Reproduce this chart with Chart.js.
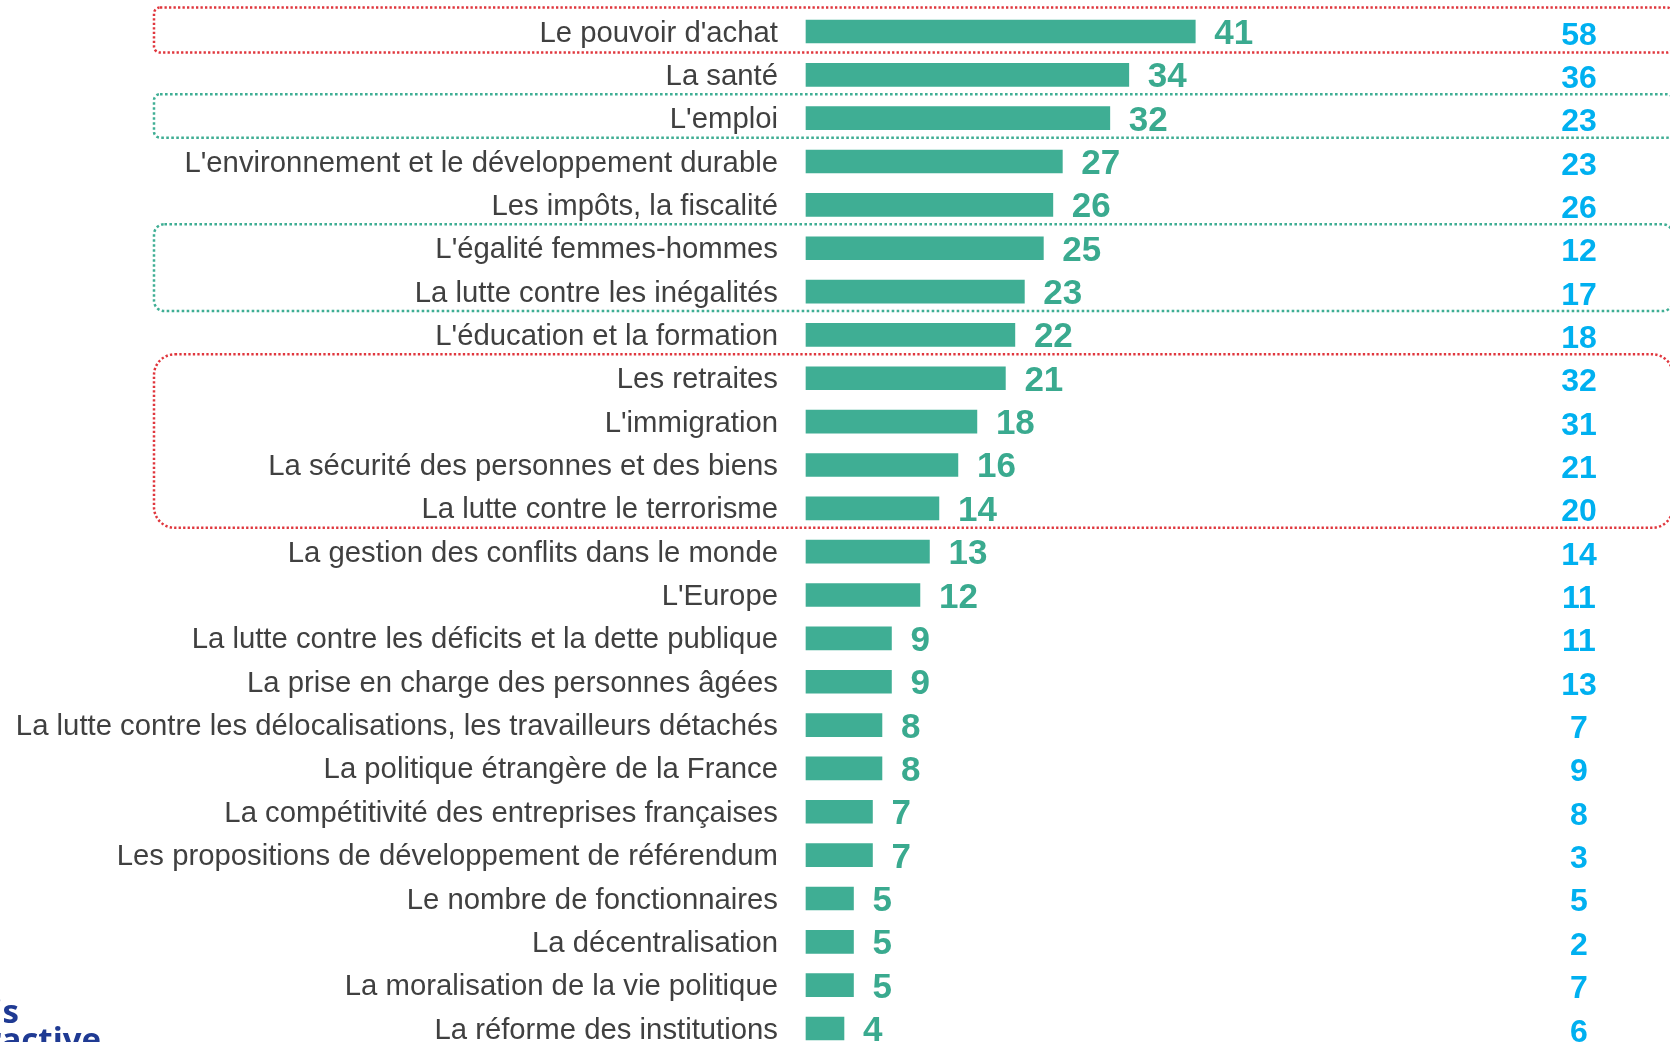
<!DOCTYPE html>
<html><head><meta charset="utf-8">
<script src="https://cdn.jsdelivr.net/npm/chart.js@4.4.0/dist/chart.umd.min.js"></script>
<style>html,body{margin:0;padding:0;background:#fff;overflow:hidden}#wrap{width:1670px;height:1042px;position:relative}</style>
</head><body><div id="wrap"><canvas id="c" width="1670" height="1042"></canvas></div>
<script>
const categories = [
  "Le pouvoir d'achat",
  "La santé",
  "L'emploi",
  "L'environnement et le développement durable",
  "Les impôts, la fiscalité",
  "L'égalité femmes-hommes",
  "La lutte contre les inégalités",
  "L'éducation et la formation",
  "Les retraites",
  "L'immigration",
  "La sécurité des personnes et des biens",
  "La lutte contre le terrorisme",
  "La gestion des conflits dans le monde",
  "L'Europe",
  "La lutte contre les déficits et la dette publique",
  "La prise en charge des personnes âgées",
  "La lutte contre les délocalisations, les travailleurs détachés",
  "La politique étrangère de la France",
  "La compétitivité des entreprises françaises",
  "Les propositions de développement de référendum",
  "Le nombre de fonctionnaires",
  "La décentralisation",
  "La moralisation de la vie politique",
  "La réforme des institutions"
];
const valuesMain = [41,34,32,27,26,25,23,22,21,18,16,14,13,12,9,9,8,8,7,7,5,5,5,4];
const valuesCompare = [58,36,23,23,26,12,17,18,32,31,21,20,14,11,11,13,7,9,8,3,5,2,7,6];
const redGroups = [[0,0],[8,11]];
const greenGroups = [[2,2],[5,6]];
const logoLines = ["Harris", "Interactive"];

const GREEN = '#3FAE94';
const GREEN_TXT = '#3AAA8F';
const BLUE = '#00B0F0';
const RED_DOT = '#E0363D';

function roundRectPath(ctx, x, y, w, h, r) {
  ctx.beginPath();
  ctx.moveTo(x + r, y);
  ctx.lineTo(x + w - r, y);
  ctx.arcTo(x + w, y, x + w, y + r, r);
  ctx.lineTo(x + w, y + h - r);
  ctx.arcTo(x + w, y + h, x + w - r, y + h, r);
  ctx.lineTo(x + r, y + h);
  ctx.arcTo(x, y + h, x, y + h - r, r);
  ctx.lineTo(x, y + r);
  ctx.arcTo(x, y, x + r, y, r);
  ctx.closePath();
}

const overlayPlugin = {
  id: 'overlay',
  afterDatasetsDraw(chart) {
    const {ctx, scales: {x, y}, chartArea} = chart;
    ctx.save();
    ctx.textBaseline = 'alphabetic';
    valuesMain.forEach((v, i) => {
      const yc = y.getPixelForValue(i);
      ctx.font = 'bold 35px "Liberation Sans", Arial, sans-serif';
      ctx.fillStyle = GREEN_TXT;
      ctx.textAlign = 'left';
      ctx.fillText(String(v), x.getPixelForValue(v) + 19, yc + 12.5);
      ctx.font = 'bold 32px "Liberation Sans", Arial, sans-serif';
      ctx.fillStyle = BLUE;
      ctx.textAlign = 'center';
      ctx.fillText(String(valuesCompare[i]), chartArea.right - 91, yc + 13);
    });
    ctx.restore();
  },
  afterDraw(chart) {
    const {ctx, scales: {y}} = chart;
    const drawGroup = (g, color, dash) => {
      const top = y.getPixelForValue(g[0]) - 24;
      const bottom = y.getPixelForValue(g[1]) + (g[0] === 0 ? 21 : 19.5);
      const h = bottom - top;
      const r = Math.max(6, h * 0.12);
      ctx.save();
      ctx.strokeStyle = color;
      ctx.lineWidth = 2.5;
      ctx.setLineDash(dash);
      roundRectPath(ctx, 154, top, 1673 - 154, h, r);
      ctx.stroke();
      ctx.restore();
    };
    redGroups.forEach(g => drawGroup(g, RED_DOT, [2.3, 2.2]));
    greenGroups.forEach(g => drawGroup(g, GREEN, [2.6, 2.4]));

    ctx.save();
    ctx.fillStyle = '#1F3A93';
    ctx.font = 'bold 33px "Open Sans", Arial, sans-serif';
    ctx.textAlign = 'right';
    ctx.textBaseline = 'alphabetic';
    ctx.fillText(logoLines[0], 19, 1023);
    ctx.fillText(logoLines[1], 101, 1051);
    ctx.restore();
  }
};

new Chart(document.getElementById('c'), {
  type: 'bar',
  data: {
    labels: categories,
    datasets: [{
      data: valuesMain,
      backgroundColor: GREEN,
      borderWidth: 0,
      barThickness: 23,
      clip: false
    }]
  },
  options: {
    indexAxis: 'y',
    responsive: false,
    animation: false,
    layout: {padding: {top: 31.5, bottom: 13.5, left: 0, right: 0}},
    plugins: {legend: {display: false}, tooltip: {enabled: false}},
    scales: {
      x: {min: 0, max: 91, display: false},
      y: {
        type: 'category',
        offset: false,
        grid: {display: false, drawTicks: false},
        border: {display: false},
        ticks: {
          color: '#404040',
          font: {family: '"Liberation Sans", Arial, sans-serif', size: 29.3, lineHeight: 0.9},
          padding: 28,
          labelOffset: 2,
          autoSkip: false
        },
        afterFit(scale) {
          scale.width = 806;
          scale.paddingTop = 0;
          scale.paddingBottom = 0;
        }
      }
    }
  },
  plugins: [overlayPlugin]
});
</script>
</body></html>
